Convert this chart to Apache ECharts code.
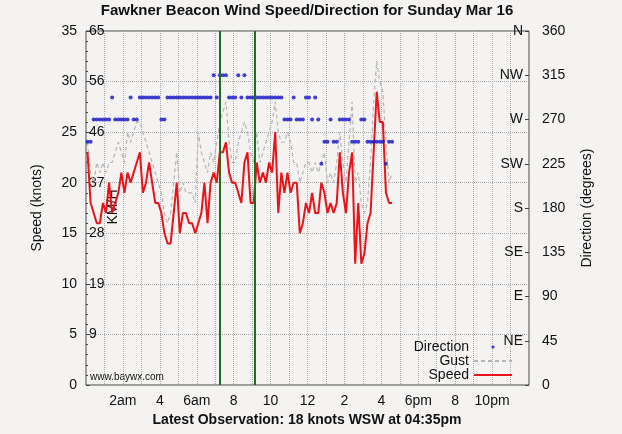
<!DOCTYPE html>
<html>
<head>
<meta charset="utf-8">
<script src="https://cdn.jsdelivr.net/npm/echarts@6/dist/echarts.min.js"></script>
<style>
  html, body { margin: 0; padding: 0; background: #f4f3f1; }
  #chart { width: 622px; height: 434px; }
</style>
</head>
<body>
<div id="chart"></div>
<script>
// observations every 10 minutes, first one at 00:05
const firstObs = 5;
const obsStep = 10;

const speed = [
  23, 18, 17, 16, 16, 18, 17, 20, 17, 18,
  19, 21, 19, 21, 20, 21, 22, 23, 19, 20,
  22, 20, 18, 18, 17, 15, 14, 14, 17, 20,
  15, 17, 17, 16, 16, 15, 16, 17, 20, 16,
  20, 21, 20, 23, 23, 24, 21, 20, 20, 19,
  18, 22, 23, 18, 18, 22, 20, 21, 20, 22,
  21, 25, 17, 21, 19, 21, 19, 20, 20, 15,
  16, 18, 17, 19, 17, 17, 20, 19, 17, 18,
  17, 18, 23, 19, 17, 21, 23, 12, 18, 12,
  13, 16, 17, 23, 29, 26, 26, 19, 18, 18
];

const gust = [
  24, 21, 20, 22, 21, 22, 21, 22, 22, 23,
  24, 23, 22, 25, 24, 25, 26, 26, 25, 24,
  23, 22, 21, 20, 19, 17, 16, 17, 20, 23,
  19, 20, 19, 19, 19, 18, 25, 23, 22, 21,
  23, 22, 24, 26, 27, 28, 24, 22, 22, 24,
  25, 26, 25, 23, 22, 25, 22, 23, 24, 25,
  26, 28, 25, 24, 24, 25, 24, 22, 22, 20,
  21, 22, 22, 21, 22, 21, 22, 23, 20, 21,
  20, 22, 25, 22, 20, 24, 28, 20, 21, 18,
  17, 18, 22, 28, 32, 30, 29, 24, 20, 21
];

const direction = [
  247.5, 247.5, 270, 270, 270, 270, 270, 270, 292.5, 270,
  270, 270, 270, 270, 292.5, 270, 270, 292.5, 292.5, 292.5,
  292.5, 292.5, 292.5, 292.5, 270, 270, 292.5, 292.5, 292.5, 292.5,
  292.5, 292.5, 292.5, 292.5, 292.5, 292.5, 292.5, 292.5, 292.5, 292.5,
  292.5, 315, 292.5, 315, 315, 315, 292.5, 292.5, 292.5, 315,
  292.5, 315, 292.5, 292.5, 292.5, 292.5, 292.5, 292.5, 292.5, 292.5,
  292.5, 292.5, 292.5, 292.5, 270, 270, 270, 292.5, 270, 270,
  270, 292.5, 292.5, 270, 292.5, 270, 225, 247.5, 247.5, 270,
  247.5, 247.5, 270, 270, 270, 270, 247.5, 247.5, 247.5, 270,
  270, 247.5, 247.5, 247.5, 247.5, 247.5, 247.5, 225, 247.5, 247.5
];

// green marker lines, minutes after midnight
const markerTimes = [435, 548];

const hourLabels = { 2: '2am', 4: '4', 6: '6am', 8: '8', 10: '10', 12: '12',
                     14: '2', 16: '4', 18: '6pm', 20: '8', 22: '10pm' };
const kmhLabels = ['', '9', '19', '28', '37', '46', '56', '65'];
const compassLabels = ['', 'NE', 'E', 'SE', 'S', 'SW', 'W', 'NW', 'N'];

const font = "'Liberation Sans', Arial, Helvetica, sans-serif";
const ink = '#111';

const pairs = arr => arr.map((v, i) => [firstObs + i * obsStep, v]);

// tiny dot centred in a 38x10 box so the legend keeps it small
const dotIcon = 'path://M0,0M38,10M17.4,5a1.6,1.6 0 1 0 3.2,0a1.6,1.6 0 1 0 -3.2,0z';
const noSymbol = { opacity: 0 };

const chart = echarts.init(document.getElementById('chart'));

chart.setOption({
  animation: false,
  backgroundColor: '#f4f3f1',
  textStyle: { fontFamily: font, color: ink },
  grid: {
    left: 86, right: 93, top: 31, bottom: 49,
    show: true, borderColor: '#444', borderWidth: 1,
    backgroundColor: 'transparent'
  },
  graphic: [
    {
      type: 'text', x: 307, y: 11,
      style: {
        text: 'Fawkner Beacon Wind Speed/Direction for Sunday Mar 16',
        font: 'bold 15px ' + font, fill: ink, align: 'center', verticalAlign: 'middle'
      }
    },
    {
      type: 'text', x: 307, y: 420,
      style: {
        text: 'Latest Observation: 18 knots WSW at 04:35pm',
        font: 'bold 14px ' + font, fill: ink, align: 'center', verticalAlign: 'middle'
      }
    },
    {
      type: 'text', x: 90, y: 377,
      style: {
        text: 'www.baywx.com', font: '10px ' + font, fill: ink,
        align: 'left', verticalAlign: 'middle'
      }
    },
    {
      type: 'text', x: 113, y: 207, rotation: Math.PI / 2,
      style: {
        text: 'KM/H', font: '14px ' + font, fill: ink,
        align: 'center', verticalAlign: 'middle'
      }
    }
  ],
  legend: {
    orient: 'vertical', align: 'right',
    right: 109, bottom: 52, padding: 0,
    itemWidth: 38, itemHeight: 10, itemGap: 0,
    textStyle: { fontSize: 14, lineHeight: 14, color: ink, fontFamily: font },
    data: [
      { name: 'Direction', icon: dotIcon },
      { name: 'Gust', itemStyle: noSymbol },
      { name: 'Speed', itemStyle: noSymbol }
    ]
  },
  xAxis: {
    type: 'value', min: 0, max: 1440, interval: 60,
    axisLine: { show: false },
    axisTick: { show: false },
    axisLabel: {
      fontSize: 14, color: ink, margin: 9,
      formatter: v => hourLabels[v / 60] || ''
    },
    splitLine: { show: true, lineStyle: { color: '#aaa', type: 'dotted', width: 1 } }
  },
  yAxis: [
    {
      type: 'value', position: 'left', min: 0, max: 35, interval: 5,
      name: 'Speed (knots)', nameLocation: 'middle', nameGap: 42,
      nameTextStyle: { fontSize: 14, color: ink },
      axisLine: { show: false },
      axisTick: { show: true, inside: true, length: 4, lineStyle: { color: '#444' } },
      minorTick: { show: true, splitNumber: 5, length: 2, lineStyle: { color: '#444' } },
      axisLabel: { fontSize: 14, color: ink, margin: 9 },
      splitLine: { show: true, lineStyle: { color: '#aaa', type: 'dotted', width: 1 } }
    },
    {
      type: 'value', position: 'left', min: 0, max: 35, interval: 5,
      axisLine: { show: false }, axisTick: { show: false }, splitLine: { show: false },
      axisLabel: {
        inside: true, fontSize: 14, color: ink, margin: 3,
        formatter: v => kmhLabels[v / 5]
      }
    },
    {
      type: 'value', position: 'right', min: 0, max: 360, interval: 45,
      name: 'Direction (degrees)', nameLocation: 'middle', nameGap: 51,
      nameTextStyle: { fontSize: 14, color: ink },
      axisLine: { show: false }, axisTick: { show: false }, splitLine: { show: false },
      axisLabel: { fontSize: 14, color: ink, margin: 13 }
    },
    {
      type: 'value', position: 'right', min: 0, max: 360, interval: 45,
      axisLine: { show: false }, splitLine: { show: false },
      axisTick: { show: true, inside: true, length: 4, lineStyle: { color: '#444' } },
      axisLabel: {
        inside: true, fontSize: 14, color: ink, margin: 6,
        formatter: v => compassLabels[v / 45]
      }
    }
  ],
  series: [
    {
      name: 'Gust', type: 'line', yAxisIndex: 0,
      data: pairs(gust), showSymbol: false, symbol: 'none',
      lineStyle: { color: '#b5b5b5', width: 1.2, type: [4, 3] },
      itemStyle: { color: '#b5b5b5' }, z: 2
    },
    {
      name: 'Speed', type: 'line', yAxisIndex: 0,
      data: pairs(speed), showSymbol: false, symbol: 'none',
      lineStyle: { color: '#e8141a', width: 2 },
      itemStyle: { color: '#e8141a' }, z: 3
    },
    {
      name: 'Direction', type: 'scatter', yAxisIndex: 2,
      data: pairs(direction), symbol: 'circle', symbolSize: 4,
      itemStyle: { color: '#1414c4' }, z: 4,
      markLine: {
        silent: true, symbol: 'none', label: { show: false },
        lineStyle: { color: '#1e6e1e', width: 2, type: 'solid' },
        data: markerTimes.map(t => ({ xAxis: t }))
      }
    }
  ]
});
</script>
</body>
</html>
